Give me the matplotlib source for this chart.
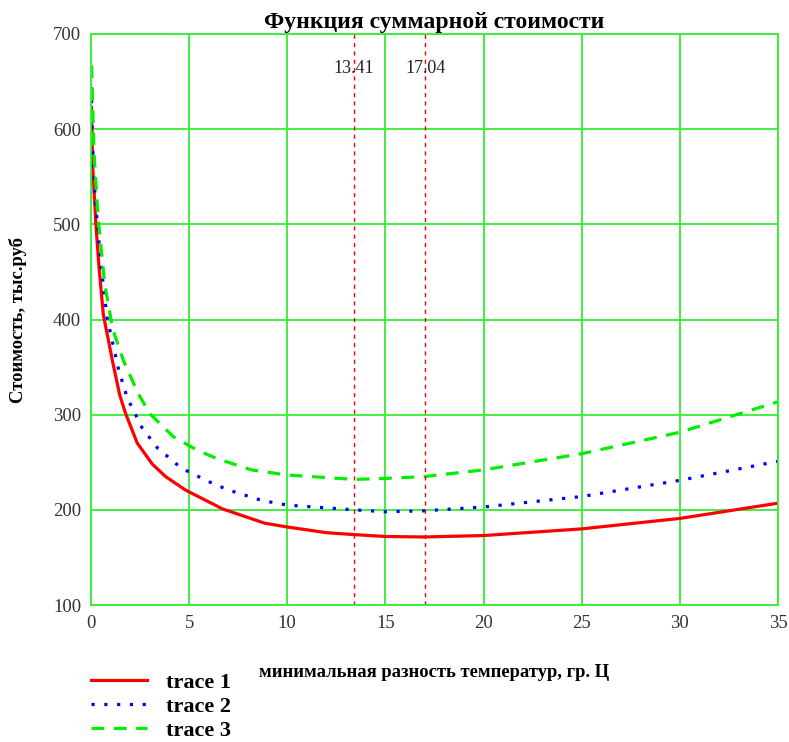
import matplotlib
matplotlib.use("Agg")
import matplotlib.pyplot as plt

plt.rcParams['font.family'] = ['Liberation Serif', 'DejaVu Serif']

# values
x1 = [0.02, 0.09, 0.25, 0.41, 0.63, 1.12, 1.46, 1.75, 2.36, 3.13, 3.8, 4.8, 6.13, 6.7, 8.85, 10, 12, 13.41, 15, 17, 20, 25, 30, 35]
trace1 = [623, 560, 500, 455, 405, 354, 321, 302, 270, 248, 235, 221, 207, 201, 186, 182, 176, 174, 172, 171.5, 173, 180, 191, 207]

x2 = [0.02, 0.07, 0.22, 0.52, 0.82, 1.4, 1.84, 2.61, 3.39, 4.59, 5.96, 6.98, 8.68, 10, 13.41, 15, 17, 20, 25, 30, 35]
trace2 = [644, 588, 525, 455, 402, 348, 318, 286, 265, 244, 230, 221, 210, 205, 200, 198, 199, 203, 214, 231, 251]

x3 = [0.03, 0.15, 0.36, 0.7, 1.12, 1.65, 2.41, 3.0, 4.19, 5.38, 6.4, 8.17, 10, 13.41, 15, 17, 20, 25, 30, 35]
trace3 = [667, 577, 507, 437, 389, 357, 322, 301, 277, 263, 254, 242, 236.6, 232, 233, 235, 242, 259, 281.5, 313.5]

markers = [13.41, 17.04]
marker_labels = ["13.41", "17.04"]

grid_col = "#33ee33"

fig = plt.figure(figsize=(7.89, 7.42), dpi=100)
ax = fig.add_axes([0.1153, 0.1846, 0.8707, 0.7696])

ax.plot(x1, trace1, color="#ff0000", lw=2.3, label="trace 1")
ax.plot(x2, trace2, color="#0000ff", lw=2.3, ls=(0, (1, 3)), label="trace 2")
ax.plot(x3, trace3, color="#00ee00", lw=2.3, ls=(0, (4, 3)), label="trace 3")

for m, lab in zip(markers, marker_labels):
    ax.axvline(m, color="#ff0000", lw=1, ls=(0, (3, 3)))
    ax.text(m, 664, lab, ha="center", va="center", fontsize=13, color="#222222")

ax.set_xlim(0, 35)
ax.set_ylim(100, 700)
ax.set_xticks(range(0, 36, 5))
ax.set_yticks(range(100, 701, 100))
ax.grid(True, color=grid_col, lw=1.3)
for s in ax.spines.values():
    s.set_color(grid_col)
    s.set_linewidth(1.3)
ax.tick_params(length=0, labelsize=13.5, labelcolor="#333333", pad=7)

ax.set_title("Функция суммарной стоимости", fontsize=17, fontweight="bold", pad=4)
ax.set_ylabel("Стоимость, тыс.руб", fontsize=13.4, fontweight="bold")
ax.set_xlabel("минимальная разность температур, гр. Ц", fontsize=13.4, fontweight="bold")
ax.yaxis.set_label_coords(-0.093, 0.5)
ax.xaxis.set_label_coords(0.5, -0.104)

fig.legend(loc="upper left", bbox_to_anchor=(0.1155, 0.094), frameon=False,
           prop={"size": 16, "weight": "bold"}, handlelength=2.5,
           handletextpad=0.85, labelspacing=0.15, borderaxespad=0, borderpad=0)

fig.savefig("out.png", dpi=100)
